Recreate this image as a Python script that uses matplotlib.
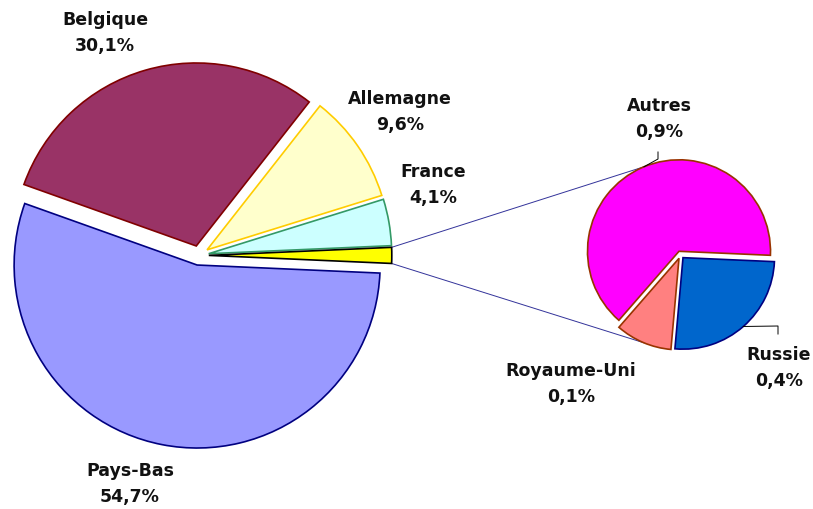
import matplotlib.pyplot as plt
import numpy as np

# ---- data ----
main_labels = ['Pays-Bas', 'Belgique', 'Allemagne', 'France']
main_values = [54.7, 30.1, 9.6, 4.1]
main_colors = ['#9999FF', '#993366', '#FFFFCC', '#CCFFFF']
main_edges = ['#000080', '#800000', '#FFCC00', '#339966']
other_color, other_edge = '#FFFF00', '#000000'

sub_labels = ['Autres', 'Royaume-Uni', 'Russie']
sub_values = [0.90, 0.14, 0.36]
sub_colors = ['#FF00FF', '#FF8080', '#0066CC']
sub_edges = ['#993300', '#993300', '#000080']

W, H = 813, 510
fig = plt.figure(figsize=(W / 100, H / 100), dpi=100)
ax = fig.add_axes([0, 0, 1, 1])

def P(x, y):
    return (x, H - y)

other_total = sum(sub_values)
vals = main_values + [other_total]
total = sum(vals)
start = -(other_total / total * 360) / 2

wedges, _ = ax.pie(vals, colors=main_colors + [other_color], startangle=start,
                   counterclock=False, radius=183, center=P(199, 256.4),
                   explode=[9.8] * len(vals), frame=True,
                   wedgeprops=dict(linewidth=1.2))
for w, ec in zip(wedges, main_edges + [other_edge]):
    w.set_edgecolor(ec)

sw, _ = ax.pie(sub_values, colors=sub_colors, startangle=-2.5, counterclock=True,
               radius=91.5, center=P(680.5, 255.8), explode=[3.8] * 3, frame=True,
               wedgeprops=dict(linewidth=1.2))
for w, ec in zip(sw, sub_edges):
    w.set_edgecolor(ec)

def pt(w, ang, r=None):
    r = w.r if r is None else r
    cx, cy = w.center
    return cx + r * np.cos(np.radians(ang)), cy + r * np.sin(np.radians(ang))

# connector lines
yw = wedges[-1]
p1 = pt(yw, max(yw.theta1, yw.theta2))
p2 = pt(yw, min(yw.theta1, yw.theta2))
q1 = pt(sw[0], 112.5)
q2 = pt(sw[1], 247.5)
ax.plot([p1[0], q1[0]], [p1[1], q1[1]], color='#33339A', lw=0.7, zorder=0)
ax.plot([p2[0], q2[0]], [p2[1], q2[1]], color='#33339A', lw=0.7, zorder=0)

# leader lines
ax.plot([q1[0], P(658, 160)[0], P(658, 153)[0]],
        [q1[1], P(658, 160)[1], P(658, 153)[1]], color='black', lw=0.7)
rw = sw[2]
rb = pt(rw, (rw.theta1 + rw.theta2) / 2)
ax.plot([rb[0], P(778, 327)[0], P(778, 335)[0]],
        [rb[1], P(778, 327)[1], P(778, 335)[1]], color='black', lw=0.7)

def fmt(v):
    return f"{v:.1f}".replace('.', ',') + '%'

font = dict(family=['DejaVu Sans'], fontsize=12.5, fontweight='bold',
            ha='center', va='center', multialignment='center', linespacing=1.6,
            color='#111111')

main_pos = [(130, 484), (105, 33), (400, 112), (433, 185)]
for lab, v, (x, y) in zip(main_labels, main_values, main_pos):
    ax.text(*P(x, y), f"{lab}\n{fmt(v)}", **font)

sub_pos = [(659, 119), (571, 384), (779, 368)]
for lab, v, (x, y) in zip(sub_labels, sub_values, sub_pos):
    ax.text(*P(x, y), f"{lab}\n{fmt(v)}", **font)

ax.set_xlim(0, W)
ax.set_ylim(0, H)
ax.set_aspect('equal')
ax.axis('off')
fig.savefig('out.png', dpi=100)
